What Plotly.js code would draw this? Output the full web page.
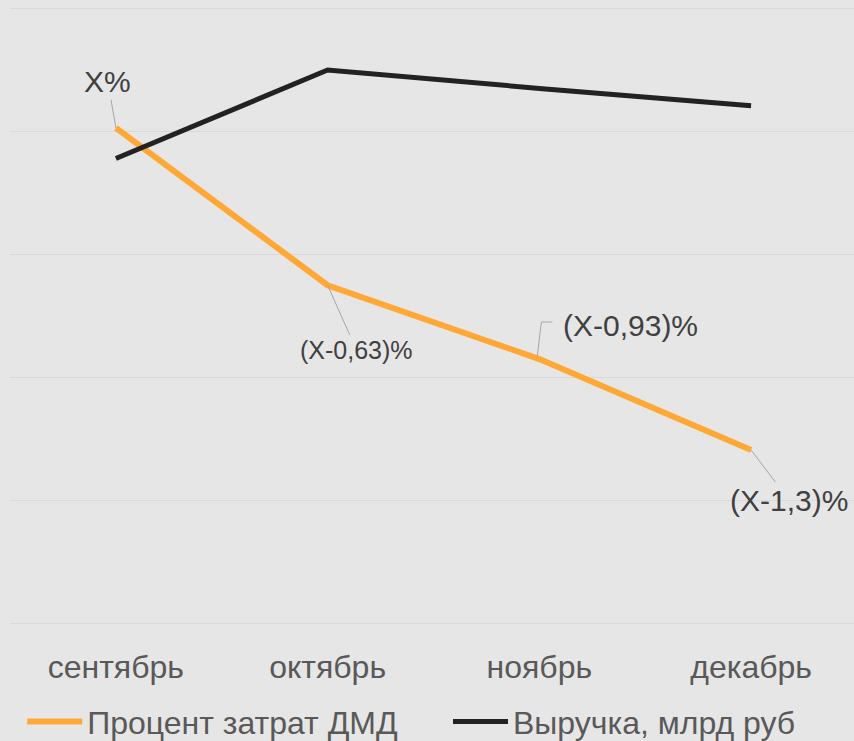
<!DOCTYPE html>
<html>
<head>
<meta charset="utf-8">
<script src="https://cdn.plot.ly/plotly-3.0.1.min.js"></script>
<style>
  html, body { margin: 0; padding: 0; background: #e6e6e6; }
  #chart { width: 854px; height: 741px; }
</style>
</head>
<body>
<div id="chart"></div>
<script>
// Categories
const months = ['сентябрь', 'октябрь', 'ноябрь', 'декабрь'];
// Series values (relative units; axes are hidden)
const costPercent = [4.03, 2.75, 2.15, 1.41];   // Процент затрат ДМД
const revenue = [3.78, 4.50, 4.35, 4.21];       // Выручка, млрд руб
// Data labels for the cost-percent series
const costLabels = ['X%', '(X-0,63)%', '(X-0,93)%', '(X-1,3)%'];
const seriesNames = ['Процент затрат ДМД', 'Выручка, млрд руб'];

const FONT = 'Liberation Sans, Arial, sans-serif';
const labelStyle = [
  {ax: -8, ay: -46, size: 30},
  {ax: 29, ay: 65, size: 25},
  null,
  {ax: 38, ay: 50, size: 30}
];

const traces = [
  {
    x: months, y: costPercent, name: seriesNames[0], type: 'scatter', mode: 'lines',
    line: {color: '#ffa836', width: 6}, yaxis: 'y', legend: 'legend'
  },
  {
    x: months, y: revenue, name: seriesNames[1], type: 'scatter', mode: 'lines',
    line: {color: '#222222', width: 5}, yaxis: 'y2', legend: 'legend2'
  }
];

const annotations = months.map((m, i) => {
  if (i === 2) {
    return {
      x: m, y: costPercent[i], xref: 'x', yref: 'y', text: costLabels[i],
      showarrow: false, xanchor: 'left', yanchor: 'middle', xshift: 22, yshift: 34,
      font: {family: FONT, size: 30, color: '#404040'}
    };
  }
  return {
    x: m, y: costPercent[i], xref: 'x', yref: 'y',
    text: costLabels[i], showarrow: true, arrowhead: 0, arrowwidth: 1,
    arrowcolor: '#a6a6a6', ax: labelStyle[i].ax, ay: labelStyle[i].ay,
    standoff: 0, startstandoff: 0,
    font: {family: FONT, size: labelStyle[i].size, color: '#404040'}
  };
});

// elbow leader line for the third label, anchored on its data point
const shapes = [{
  type: 'path', xref: 'x', yref: 'y', xsizemode: 'pixel', ysizemode: 'pixel',
  xanchor: months[2], yanchor: costPercent[2],
  path: 'M -2,3 L 2,37 L 13,37',
  line: {color: '#a6a6a6', width: 1}
}];

const legendBase = {
  orientation: 'h', xref: 'container', xanchor: 'left',
  yref: 'container', y: 0.026, yanchor: 'middle',
  font: {size: 32, color: '#595959'}, bgcolor: 'rgba(0,0,0,0)',
  itemwidth: 55, tracegroupgap: 0
};

const layout = {
  width: 854, height: 741,
  paper_bgcolor: '#e6e6e6', plot_bgcolor: '#e6e6e6',
  margin: {l: 10, r: 0, t: 6, b: 115},
  font: {family: FONT, color: '#595959'},
  showlegend: true,
  hovermode: false,
  xaxis: {
    type: 'category', range: [-0.5, 3.486], showgrid: false, zeroline: false,
    showline: false, ticks: '', tickfont: {size: 32, color: '#595959'},
    ticklabelstandoff: 19, fixedrange: true
  },
  yaxis: {
    range: [-0.02, 5.02], tick0: 0, dtick: 1, showgrid: true, gridcolor: '#d9d9d9', gridwidth: 1,
    zeroline: false, showticklabels: false, ticks: '', fixedrange: true
  },
  yaxis2: {
    range: [-0.02, 5.02], overlaying: 'y', showgrid: false, zeroline: false,
    showticklabels: false, ticks: '', fixedrange: true
  },
  legend: Object.assign({}, legendBase, {x: 0.026}),
  legend2: Object.assign({}, legendBase, {x: 0.5246}),
  annotations: annotations,
  shapes: shapes
};

Plotly.newPlot('chart', traces, layout, {displayModeBar: false, staticPlot: true});
</script>
</body>
</html>
